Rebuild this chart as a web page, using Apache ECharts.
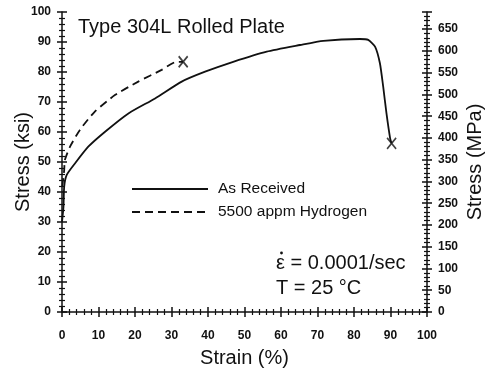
<!DOCTYPE html>
<html>
<head>
<meta charset="utf-8">
<title>Type 304L Rolled Plate</title>
<script src="https://cdn.jsdelivr.net/npm/echarts@6/dist/echarts.min.js"></script>
<style>
  html, body { margin: 0; padding: 0; background: #fff; }
  #chart { width: 489px; height: 374px; }
</style>
</head>
<body>
<div id="chart"></div>
<script>
// strain (%) / stress (ksi)
var receivedStrain = [0, 0.4, 0.6, 1.3, 3.6, 7.2, 11.8, 18.2, 25.5, 32.8, 39.2, 46.9, 56.1, 65.2, 71.6, 81.6, 83.9, 85.8, 87.1, 88.0, 88.9, 89.9, 90.3];
var receivedStress = [30, 35, 41.8, 45.7, 49.6, 55.1, 60.1, 66.2, 71.2, 76.8, 80.1, 83.4, 86.8, 89.0, 90.4, 91.0, 90.7, 88.4, 82.9, 75.1, 66.2, 57.9, 56.2];
var hydrogenStrain = [0.1, 0.6, 0.8, 2.2, 4.9, 9.0, 14.5, 20.9, 27.3, 31.4, 33.2];
var hydrogenStress = [42, 47.3, 50.7, 55.1, 60.7, 66.8, 72.3, 76.8, 80.7, 83.4, 83.4];
var fractureStrain = [33.2, 90.3];
var fractureStress = [83.4, 56.2];
var seriesNames = ['As Received', '5500 appm Hydrogen'];
var ksiToMPa = 6.89476;

function pairs(xs, ys) {
    var out = [];
    for (var i = 0; i < xs.length; i++) out.push([xs[i], ys[i]]);
    return out;
}

var black = '#111';
var family = '"Liberation Sans", Arial, sans-serif';
var labelFont = { color: black, fontSize: 12, fontWeight: 'bold', fontFamily: family };
var nameFont = { color: black, fontSize: 20, fontFamily: family };

function xAx(inside) {
    return {
        type: 'value', min: 0, max: 100, interval: 10,
        position: 'bottom',
        name: inside ? '' : 'Strain (%)',
        nameLocation: 'middle', nameGap: 36, nameTextStyle: nameFont, nameMoveOverlap: false,
        axisLine: { show: !inside, lineStyle: { color: black, width: 1.5 } },
        axisTick: { inside: inside, length: 5, lineStyle: { color: black, width: 1.5 } },
        minorTick: { show: true, splitNumber: 5, length: 3, lineStyle: { color: black, width: 1.2 } },
        axisLabel: Object.assign({ show: !inside, margin: 18 }, labelFont),
        splitLine: { show: false }
    };
}

function yAx(pos, inside) {
    var isRight = pos === 'right';
    return {
        type: 'value', position: pos,
        min: 0, max: isRight ? 100 * ksiToMPa : 100, interval: isRight ? 50 : 10,
        name: inside ? '' : (isRight ? 'Stress (MPa)' : 'Stress (ksi)'),
        nameLocation: 'middle', nameGap: isRight ? 38 : 29, nameTextStyle: nameFont, nameMoveOverlap: false,
        axisLine: { show: !inside, onZero: false, lineStyle: { color: black, width: 1.5 } },
        axisTick: { inside: inside, length: 5, lineStyle: { color: black, width: 1.5 } },
        minorTick: { show: true, splitNumber: 5, length: 3, lineStyle: { color: black, width: 1.2 } },
        axisLabel: Object.assign({ show: !inside, margin: 11, showMaxLabel: !isRight }, labelFont),
        splitLine: { show: false }
    };
}

var chart = echarts.init(document.getElementById('chart'), null, { renderer: 'canvas' });
chart.setOption({
    animation: false,
    backgroundColor: '#fff',
    grid: { left: 62, right: 62, top: 12, bottom: 62, containLabel: false, outerBoundsMode: 'none' },
    title: {
        text: 'Type 304L Rolled Plate', left: 73, top: 12,
        textStyle: { color: black, fontSize: 20, fontWeight: 'normal', fontFamily: family }
    },
    legend: {
        data: seriesNames, orient: 'vertical', left: 126, top: 176,
        itemWidth: 76, itemHeight: 10, itemGap: 7,
        itemStyle: { opacity: 0 },
        textStyle: { color: black, fontSize: 15.5, fontFamily: family, padding: [0, 0, 0, 5] }
    },
    xAxis: [xAx(false), xAx(true)],
    yAxis: [yAx('left', false), yAx('right', false), yAx('left', true), yAx('right', true)],
    graphic: [
        { type: 'text', left: 276, top: 253, style: { text: '\u03B5 = 0.0001/sec', fill: black, font: '20px ' + family } },
        { type: 'circle', shape: { cx: 281.5, cy: 253, r: 1.4 }, style: { fill: black } },
        { type: 'text', left: 276, top: 278, style: { text: 'T = 25 \u00B0C', fill: black, font: '20px ' + family } }
    ],
    series: [
        {
            name: seriesNames[0], type: 'line', data: pairs(receivedStrain, receivedStress),
            symbol: 'none', smooth: 0.2,
            lineStyle: { color: black, width: 1.8 }, itemStyle: { color: black }
        },
        {
            name: seriesNames[1], type: 'line', data: pairs(hydrogenStrain, hydrogenStress),
            symbol: 'none', smooth: 0.2,
            lineStyle: { color: black, width: 1.8, type: [8, 5] }, itemStyle: { color: black }
        },
        {
            name: 'fracture', type: 'scatter', data: pairs(fractureStrain, fractureStress),
            symbol: 'path://M0,0L10,12M10,0L0,12', symbolSize: [9, 11],
            itemStyle: { color: 'none', borderColor: black, borderWidth: 1.8 }
        }
    ]
});
</script>
</body>
</html>
